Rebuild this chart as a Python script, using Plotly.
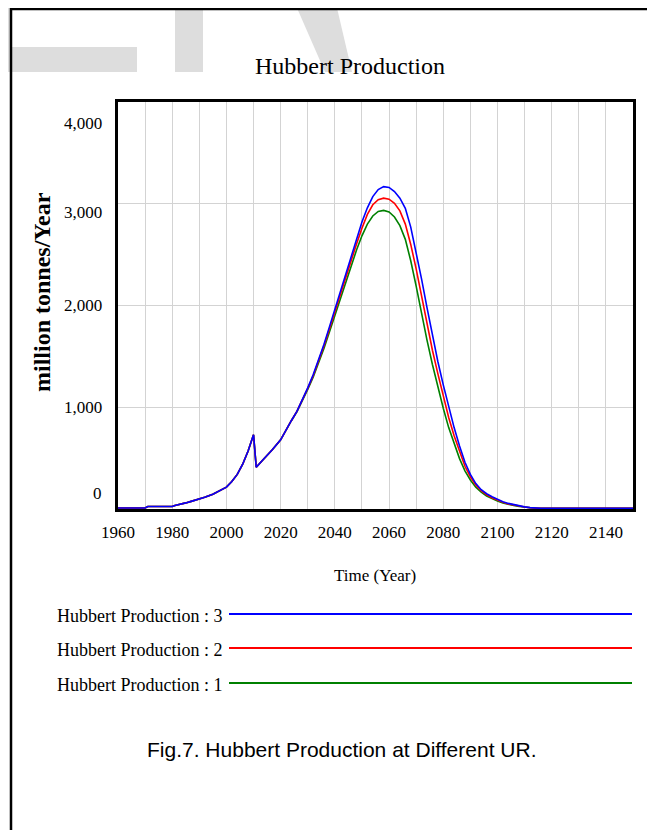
import plotly.graph_objects as go

# ---------------- data ----------------
years_common = [1960, 1970, 1971, 1980, 1981, 1983, 1985, 1987, 1990, 1992, 1995, 1997,
                2000, 2002, 2004, 2006, 2008, 2010, 2011, 2013, 2015, 2017, 2020, 2022, 2024]
values_common = [10, 10, 25, 25, 35, 45, 60, 75, 95, 115, 145, 170,
                 215, 270, 340, 440, 570, 730, 410, 470, 525, 585, 680, 780, 870]

years_late = [2026, 2028, 2030, 2032, 2034, 2036, 2038, 2040, 2042, 2044, 2046, 2048,
              2050, 2052, 2054, 2056, 2058, 2060, 2062, 2064, 2066, 2068, 2070, 2072,
              2074, 2076, 2078, 2080, 2082, 2084, 2086, 2088, 2090, 2092, 2094, 2096,
              2098, 2100, 2102, 2104, 2106, 2108, 2110, 2112, 2114, 2116, 2150]

hp3_late = [960, 1070, 1190, 1320, 1460, 1620, 1790, 1960, 2140, 2320, 2490, 2660,
            2820, 2960, 3070, 3140, 3168, 3160, 3120, 3055, 2955, 2770, 2530, 2260,
            1980, 1700, 1450, 1220, 1000, 800, 620, 460, 340, 250, 190, 150,
            120, 95, 72, 55, 42, 30, 21, 14, 9, 7, 7]
hp2_late = [960, 1070, 1185, 1310, 1450, 1605, 1770, 1940, 2110, 2280, 2445, 2605,
            2760, 2895, 2990, 3040, 3055, 3045, 3005, 2930, 2800, 2600, 2360, 2090,
            1820, 1560, 1330, 1110, 900, 720, 560, 420, 315, 235, 180, 140,
            110, 86, 66, 50, 38, 27, 19, 12, 8, 7, 7]
hp1_late = [955, 1060, 1175, 1295, 1430, 1580, 1740, 1905, 2070, 2235, 2395, 2545,
            2685, 2800, 2880, 2925, 2935, 2920, 2870, 2785, 2650, 2440, 2190, 1920,
            1660, 1420, 1200, 990, 800, 640, 495, 375, 285, 215, 165, 128,
            100, 78, 60, 45, 34, 24, 17, 11, 8, 7, 7]

series_names = ["Hubbert Production : 1", "Hubbert Production : 2", "Hubbert Production : 3"]
series_late = [hp1_late, hp2_late, hp3_late]
series_colors = ["#008000", "#ff0000", "#0000ff"]

x_tick_vals = [1960, 1980, 2000, 2020, 2040, 2060, 2080, 2100, 2120, 2140]
x_tick_text = ["1960", "1980", "2000", "2020", "2040", "2060", "2080", "2100", "2120", "2140"]
y_tick_vals = [0, 1000, 2000, 3000, 4000]
y_tick_text = ["0", "1,000", "2,000", "3,000", "4,000"]

title_text = "Hubbert Production"
x_title = "Time (Year)"
y_title = "million tonnes/Year"
caption = "Fig.7. Hubbert Production at Different UR."

# ---------------- layout geometry (page pixels) ----------------
O = 8                      # page body margin offset
W, H = 655 - O, 830 - O
L, R, T, B = 118, 633, 102, 509   # plot area in page pixels


def px(x):
    return (x - L) / (R - L)


def py(y):
    return (B - y) / (B - T)


SERIF = "Liberation Serif, Times New Roman, serif"
SANS = "Liberation Sans, Arial, sans-serif"

fig = go.Figure()
for name, late, color in zip(series_names, series_late, series_colors):
    fig.add_trace(go.Scatter(
        x=years_common + years_late,
        y=values_common + late,
        mode="lines",
        name=name,
        line=dict(color=color, width=1.6),
        showlegend=False,
        hoverinfo="x+y+name",
    ))

shapes = []
# watermark
wm = "#dddddd"
for (x0, y0, x1, y1) in [(8, 8, 10, 72), (12, 47, 137, 72), (175, 8, 203, 72)]:
    shapes.append(dict(type="rect", xref="paper", yref="paper",
                       x0=px(x0), x1=px(x1), y0=py(y1), y1=py(y0),
                       fillcolor=wm, line=dict(width=0), layer="below"))
poly = [(297, 8), (337, 8), (352, 72), (325, 72)]
path = "M " + " L ".join(f"{px(a)},{py(b)}" for a, b in poly) + " Z"
shapes.append(dict(type="path", xref="paper", yref="paper", path=path,
                   fillcolor=wm, line=dict(width=0), layer="below"))
# outer frame
shapes.append(dict(type="rect", xref="paper", yref="paper",
                   x0=px(11), x1=px(720), y0=py(900), y1=py(9),
                   line=dict(color="black", width=2.5), fillcolor="rgba(0,0,0,0)"))

annotations = []
# y tick labels (Vensim style offsets)
y_label_shift = {0: 16, 1000: 0, 2000: 0, 3000: -9, 4000: -21}
for v, t in zip(y_tick_vals, y_tick_text):
    annotations.append(dict(text=t, xref="paper", yref="y", x=px(104), y=v,
                            xanchor="right", yanchor="middle", showarrow=False,
                            yshift=y_label_shift[v],
                            font=dict(family=SERIF, size=17, color="black")))
# title
annotations.append(dict(text=title_text, xref="paper", yref="paper", x=px(350), y=py(66),
                        xanchor="center", yanchor="middle", showarrow=False,
                        font=dict(family=SERIF, size=24, color="black")))
# axis titles
annotations.append(dict(text=x_title, xref="paper", yref="paper", x=px(375), y=py(575),
                        xanchor="center", yanchor="middle", showarrow=False,
                        font=dict(family=SERIF, size=17, color="black")))
annotations.append(dict(text="<b>" + y_title + "</b>", xref="paper", yref="paper",
                        x=px(42), y=py(292), textangle=-90,
                        xanchor="center", yanchor="middle", showarrow=False,
                        font=dict(family=SERIF, size=24, color="black")))
# legend (top: series 3)
legend_y = [683, 648, 614]
for name, color, yy in zip(series_names, series_colors, legend_y):
    annotations.append(dict(text=name, xref="paper", yref="paper", x=px(224), y=py(yy + 2),
                            xanchor="right", yanchor="middle", showarrow=False,
                            font=dict(family=SERIF, size=18, color="black")))
    shapes.append(dict(type="line", xref="paper", yref="paper",
                       x0=px(229), x1=px(632), y0=py(yy), y1=py(yy),
                       line=dict(color=color, width=1.8)))
# caption
annotations.append(dict(text=caption, xref="paper", yref="paper", x=px(341), y=py(750),
                        xanchor="center", yanchor="middle", showarrow=False,
                        font=dict(family=SANS, size=21, color="black")))

fig.update_layout(
    width=W, height=H,
    margin=dict(l=L - O, r=(W + O) - R, t=T - O, b=(H + O) - B, pad=0),
    paper_bgcolor="white", plot_bgcolor="white",
    showlegend=False,
    shapes=shapes,
    annotations=annotations,
    xaxis=dict(range=[1960, 2150], tickvals=x_tick_vals, ticktext=x_tick_text,
               showgrid=True, gridcolor="#d3d3d3", gridwidth=1,
               minor=dict(dtick=10, tick0=1960, showgrid=True, gridcolor="#d3d3d3", gridwidth=1),
               showline=True, linecolor="black", linewidth=3, mirror=True,
               zeroline=False, ticks="", ticklabelstandoff=6,
               tickfont=dict(family=SERIF, size=17, color="black")),
    yaxis=dict(range=[0, 4000], tickvals=[1000, 2000, 3000],
               showgrid=True, gridcolor="#d3d3d3", gridwidth=1,
               showline=True, linecolor="black", linewidth=3, mirror=True,
               zeroline=False, ticks="", showticklabels=False),
)

fig.write_html("out.html")
